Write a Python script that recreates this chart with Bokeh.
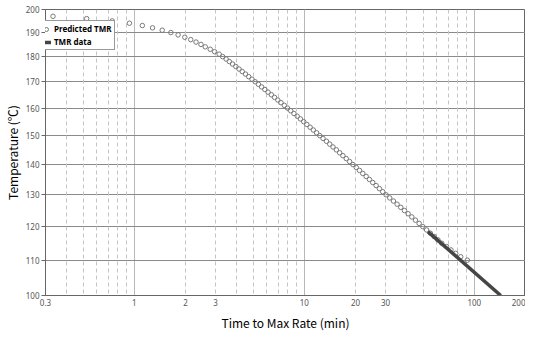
from bokeh.plotting import figure
from bokeh.models import (Range1d, FixedTicker, CustomJSTickFormatter, Grid,
                          Legend, LegendItem, ColumnDataSource)
from bokeh.embed import file_html
from bokeh.resources import INLINE

# ---------------- data ----------------
pred_temp = [197, 196, 195, 194, 193, 192, 191, 190, 189, 188, 187, 186, 185, 184,
             183, 182, 181, 180, 179, 178, 177, 176, 175, 174, 173, 172, 171, 170,
             169, 168, 167, 166, 165, 164, 163, 162, 161, 160, 159, 158, 157, 156,
             155, 154, 153, 152, 151, 150, 149, 148, 147, 146, 145, 144, 143, 142,
             141, 140, 139, 138, 137, 136, 135, 134, 133, 132, 131, 130, 129, 128,
             127, 126, 125, 124, 123, 122, 121, 120, 119, 118, 117, 116, 115, 114,
             113, 112, 111, 110]
pred_tmr = [0.332, 0.524, 0.741, 0.935, 1.114, 1.279, 1.458, 1.639, 1.808, 1.980,
            2.146, 2.305, 2.465, 2.612, 2.794, 2.964, 3.153, 3.306, 3.466, 3.618,
            3.782, 3.949, 4.129, 4.310, 4.506, 4.704, 4.918, 5.135, 5.368, 5.604,
            5.858, 6.116, 6.394, 6.676, 6.981, 7.288, 7.619, 7.955, 8.316, 8.682,
            9.077, 9.476, 9.906, 10.34, 10.81, 11.29, 11.80, 12.32, 12.88, 13.49,
            14.10, 14.74, 15.43, 16.13, 16.86, 17.65, 18.45, 19.29, 20.20, 21.11,
            22.07, 23.10, 24.15, 25.25, 26.44, 27.64, 28.89, 30.25, 31.79, 33.42,
            35.13, 36.92, 38.81, 40.78, 42.87, 45.06, 47.36, 49.79, 52.41, 55.14,
            58.03, 61.09, 64.30, 68.60, 72.88, 77.71, 83.17, 91.00]

data_tmr = [53.3, 143.0]
data_temp = [118.5, 100.0]

x_tick_values = [0.3, 1, 2, 3, 10, 20, 30, 100, 200]
x_solid_grid = [1, 10, 100]
x_dashed_grid = [0.4, 0.5, 0.6, 0.7, 0.8, 0.9, 2, 3, 4, 5, 6, 7, 8, 9,
                 20, 30, 40, 50, 60, 70, 80, 90]
y_tick_temps = [100, 110, 120, 130, 140, 150, 160, 170, 180, 190, 200]


def inv_t(t):
    # Arrhenius-type temperature axis: 1000 / T(K)
    return 1000.0 / (t + 273.15)


pred_src = ColumnDataSource(dict(x=pred_tmr, y=[inv_t(t) for t in pred_temp]))
data_src = ColumnDataSource(dict(x=data_tmr, y=[inv_t(t) for t in data_temp]))

p = figure(width=525, height=333, x_axis_type="log",
           x_range=Range1d(0.3, 200),
           y_range=Range1d(inv_t(100), inv_t(200)),
           output_backend="svg", toolbar_location=None,
           min_border_left=44, min_border_right=0,
           min_border_top=9, min_border_bottom=30)

p.background_fill_color = "white"
p.border_fill_color = "white"
p.outline_line_color = "#666666"
p.outline_line_width = 1

# grids
p.ygrid.ticker = FixedTicker(ticks=[inv_t(t) for t in y_tick_temps])
p.ygrid.grid_line_color = "#8a8a8a"
p.ygrid.grid_line_width = 1
p.xgrid.ticker = FixedTicker(ticks=x_solid_grid)
p.xgrid.grid_line_color = "#b8b8b8"
p.xgrid.grid_line_width = 1
dgrid = Grid(dimension=0, ticker=FixedTicker(ticks=x_dashed_grid),
             grid_line_color="#c4c4c4", grid_line_dash="4 3", grid_line_width=1)
p.add_layout(dgrid)

# x axis
xa = p.xaxis[0]
xa.ticker = FixedTicker(ticks=x_tick_values)
xa.formatter = CustomJSTickFormatter(code="return tick.toString();")
xa.axis_label = "Time to Max Rate (min)"
xa.axis_label_text_font = "Noto Sans CJK KR"
xa.axis_label_text_font_size = "12px"
xa.axis_label_text_font_style = "normal"
xa.axis_label_text_color = "black"
xa.axis_label_standoff = 5
xa.major_label_text_font = "Noto Sans"
xa.major_label_text_font_size = "8px"
xa.major_label_text_color = "#555555"
xa.major_label_standoff = 3
xa.major_tick_out = 0
xa.major_tick_in = 0
xa.minor_tick_line_color = None
xa.axis_line_color = "#666666"

# y axis
ya = p.yaxis[0]
ya.ticker = FixedTicker(ticks=[inv_t(t) for t in y_tick_temps])
ya.formatter = CustomJSTickFormatter(code="return Math.round(1000/tick - 273.15).toString();")
ya.axis_label = "Temperature (℃)"
ya.axis_label_text_font = "Noto Sans CJK KR"
ya.axis_label_text_font_size = "12px"
ya.axis_label_text_font_style = "normal"
ya.axis_label_text_color = "black"
ya.axis_label_standoff = 2
ya.major_label_text_font = "Noto Sans"
ya.major_label_text_font_size = "8px"
ya.major_label_text_color = "#555555"
ya.major_label_standoff = 2
ya.major_tick_out = 4
ya.major_tick_in = 0
ya.major_tick_line_color = "#666666"
ya.minor_tick_line_color = None
ya.axis_line_color = "#666666"

# glyphs
sc = p.scatter("x", "y", source=pred_src, marker="circle", size=4.5,
               fill_color=None, line_color="#7a7a7a", line_width=1)
ln = p.line("x", "y", source=data_src, line_color="#454545", line_width=3.5)

legend = Legend(items=[LegendItem(label="Predicted TMR", renderers=[sc]),
                       LegendItem(label="TMR data", renderers=[ln])],
                location=(-7, 245), orientation="vertical",
                label_text_font="Noto Sans", label_text_font_size="8px",
                label_text_font_style="bold", label_text_color="black",
                glyph_width=10, glyph_height=10, label_height=10,
                label_standoff=3, padding=2, spacing=2, margin=0,
                border_line_color="#333333", border_line_width=1.2,
                background_fill_color="white", background_fill_alpha=1)
p.add_layout(legend)

open("out.html", "w").write(file_html(p, INLINE))
